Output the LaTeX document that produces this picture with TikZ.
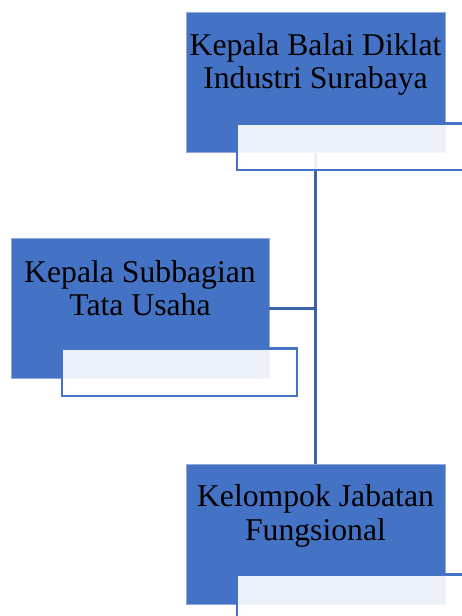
\documentclass[tikz,border=0pt]{standalone}
\usepackage{fontspec}
\setmainfont{Liberation Serif}
\definecolor{boxblue}{HTML}{4472C4}
\definecolor{linkblue}{HTML}{3A62A8}
\tikzset{
  mainbox/.style={fill=boxblue, draw=boxblue!60!white, line width=0.6pt},
  titlebox/.style={fill=white, fill opacity=0.9, draw=boxblue, draw opacity=1, line width=2.4pt},
  link/.style={draw=linkblue, line width=3pt},
  lbl/.style={font=\fontsize{31.7}{34}\selectfont, align=center, anchor=base, inner sep=0pt, text=black}
}
\begin{document}
\begin{tikzpicture}[x=1pt,y=-1pt]
\useasboundingbox (0,0) rectangle (462,616);
\clip (0,0) rectangle (462,616);
% connectors
\coordinate (vtop) at (315,153);
\coordinate (vbot) at (315,464);
\coordinate (vmid) at (315,308.7);
\draw[link] (vtop) -- (vbot);
% boxes
\path[mainbox] (186,12) rectangle (445,152.5);
\path[mainbox] (11,238) rectangle (269,378);
\path[mainbox] (186,464) rectangle (445,604.5);
\coordinate (ledge) at (269,308.7);
\draw[link] (ledge) -- (vmid);
% title boxes
\path[titlebox] (237,123.5) rectangle (473,170);
\path[titlebox] (62,348.5) rectangle (297,396);
\path[titlebox] (237,574.5) rectangle (473,640);
% labels
\node[lbl] (t1a) at (315.5,55.7) {Kepala Balai Diklat};
\node[lbl] (t1b) at (315.5,88.5) {Industri Surabaya};
\node[lbl] (t2a) at (140,282.3) {Kepala Subbagian};
\node[lbl] (t2b) at (140,315) {Tata Usaha};
\node[lbl] (t3a) at (315.5,506.7) {Kelompok Jabatan};
\node[lbl] (t3b) at (315.5,540.7) {Fungsional};
\end{tikzpicture}
\end{document}
